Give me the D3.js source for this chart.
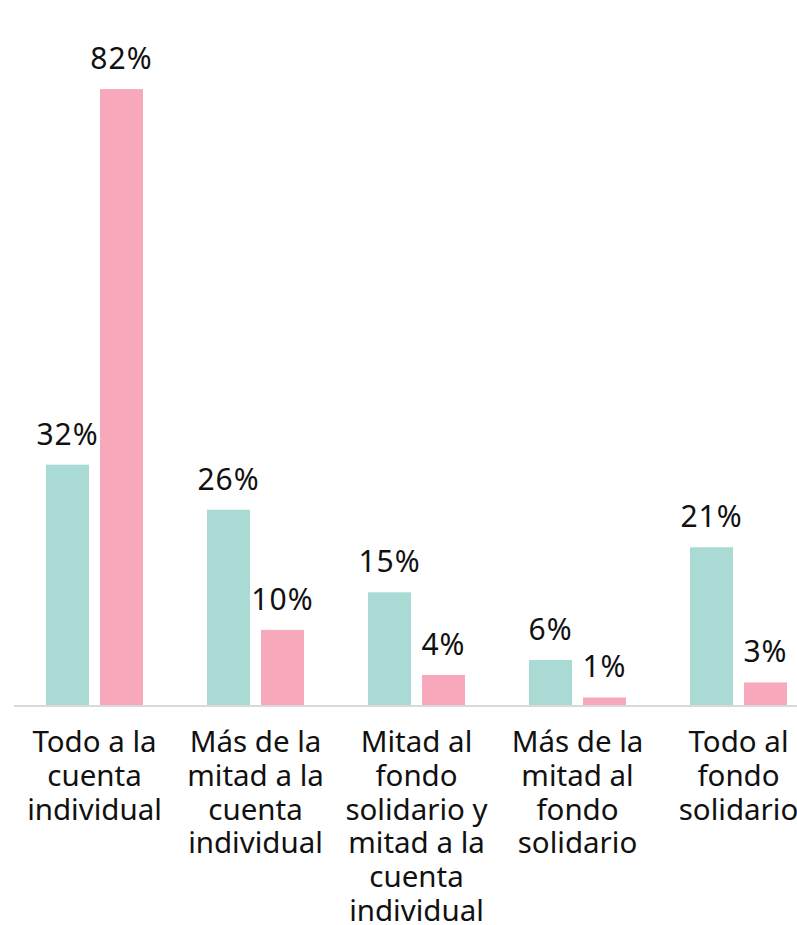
<!DOCTYPE html>
<html>
<head>
<meta charset="utf-8">
<script src="https://cdn.jsdelivr.net/npm/d3@7"></script>
<style>
  html, body { margin: 0; padding: 0; background: #fff; }
  svg { display: block; }
</style>
</head>
<body>
<div class="canvas"></div>
<script>
// data
const categories = [
    'Todo a la\ncuenta\nindividual',
    'Más de la\nmitad a la\ncuenta\nindividual',
    'Mitad al\nfondo\nsolidario y\nmitad a la\ncuenta\nindividual',
    'Más de la\nmitad al\nfondo\nsolidario',
    'Todo al\nfondo\nsolidario'
];
const series = ['serieA', 'serieB'];
const serieA = [32, 26, 15, 6, 21];
const serieB = [82, 10, 4, 1, 3];
const colours = ['#a9dad3', '#f7a8ba'];

const dims = { width: 797, height: 925 };
const baseY = 705;
const font = "'Noto Sans', sans-serif";

const rows = categories.map((c, i) => ({ cat: c, serieA: serieA[i], serieB: serieB[i] }));

const svg = d3.select('.canvas')
    .append('svg')
    .attr('width', dims.width)
    .attr('height', dims.height);

const x0 = d3.scaleBand()
    .domain(categories)
    .range([14, 819])
    .paddingInner(0.3975)
    .paddingOuter(0.19875);

const x1 = d3.scaleBand()
    .domain(series)
    .range([0, x0.bandwidth()])
    .paddingInner(0.2037);

const y = d3.scaleLinear()
    .domain([0, 90])
    .range([baseY, 29]);

const colour = d3.scaleOrdinal(series, colours);

// baseline
svg.append('line')
    .attr('x1', 14).attr('x2', dims.width)
    .attr('y1', baseY + 1).attr('y2', baseY + 1)
    .attr('stroke', '#d9d9d9')
    .attr('stroke-width', 2);

const groups = svg.selectAll('g.cat')
    .data(rows)
    .enter()
    .append('g')
    .attr('class', 'cat')
    .attr('transform', d => `translate(${x0(d.cat)},0)`);

const items = groups.selectAll('g.item')
    .data(d => series.map(s => ({ key: s, value: d[s] })))
    .enter()
    .append('g')
    .attr('class', 'item');

items.append('rect')
    .attr('x', d => x1(d.key))
    .attr('y', d => y(d.value))
    .attr('width', x1.bandwidth())
    .attr('height', d => baseY - y(d.value))
    .attr('fill', d => colour(d.key));

// value labels above bars
items.append('text')
    .attr('x', d => x1(d.key) + x1.bandwidth() / 2)
    .attr('y', d => y(d.value) - 20)
    .attr('text-anchor', 'middle')
    .attr('font-family', font)
    .attr('font-size', 30)
    .attr('letter-spacing', 1)
    .attr('fill', '#111')
    .text(d => d.value + '%');

// category labels, one tspan per line
const catLabels = svg.selectAll('text.cat')
    .data(categories)
    .enter()
    .append('text')
    .attr('class', 'cat')
    .attr('text-anchor', 'middle')
    .attr('font-family', font)
    .attr('font-size', 29.5)
    .attr('fill', '#111');

catLabels.selectAll('tspan')
    .data(d => d.split('\n').map(line => ({ line, cat: d })))
    .enter()
    .append('tspan')
    .attr('x', d => x0(d.cat) + x0.bandwidth() / 2)
    .attr('y', (d, i) => baseY + 47 + i * 33.8)
    .text(d => d.line);
</script>
</body>
</html>
